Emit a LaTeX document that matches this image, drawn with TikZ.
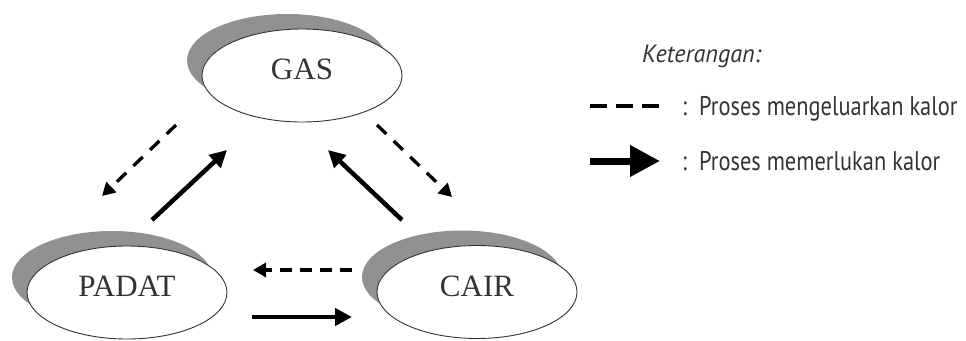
\documentclass[tikz,border=0pt]{standalone}
\usepackage{fontspec}
\setmainfont{Liberation Serif}
\newfontfamily\legendfont[FakeStretch=0.83]{PT Sans}
\newfontfamily\legendital[FakeStretch=0.97]{PT Sans}
\usetikzlibrary{shapes.geometric,arrows.meta,shadows}
\definecolor{shadowgray}{gray}{0.57}
\definecolor{inkgray}{gray}{0.2}
\begin{document}
\begin{tikzpicture}[x=1pt,y=-1pt,
  state/.style={ellipse, draw=inkgray, line width=0.9pt, fill=white,
    minimum width=200pt, minimum height=93pt, inner sep=0pt,
    font=\fontsize{31}{34}\selectfont, text=inkgray, text depth=12pt,
    general shadow={fill=shadowgray, shadow xshift=-15pt, shadow yshift=15pt}},
  solidarrow/.style={line width=4.5pt, -{Triangle[length=17pt,width=17pt]}},
  dasharrow/.style={line width=3.3pt, dash pattern=on 13pt off 10pt,
    -{Triangle[length=13pt,width=14pt]}},
  legtext/.style={font=\legendfont\fontsize{27}{30}\selectfont, text=inkgray,
    inner sep=0pt, anchor=base west},
]
\useasboundingbox (0,0) rectangle (966,340);

% states
\node[state] (gas)   at (302,75.5)  {GAS};
\node[state] (padat) at (127,292.5) {PADAT};
\node[state] (cair)  at (477,292)   {CAIR};

% arrow end points
\coordinate (gp1) at (176,125); \coordinate (gp2) at (102,196);
\coordinate (pg1) at (152,220); \coordinate (pg2) at (227,150);
\coordinate (gc1) at (377,125); \coordinate (gc2) at (452,197);
\coordinate (cg1) at (402,220); \coordinate (cg2) at (328,150);
\coordinate (cp1) at (352,270); \coordinate (cp2) at (253,270);
\coordinate (pc1) at (252,317); \coordinate (pc2) at (352,317);

\draw[dasharrow]  (gp1) -- (gp2);
\draw[solidarrow] (pg1) -- (pg2);
\draw[dasharrow]  (gc1) -- (gc2);
\draw[solidarrow] (cg1) -- (cg2);
\draw[dasharrow, dash pattern=on 12pt off 8pt]  (cp1) -- (cp2);
\draw[solidarrow] (pc1) -- (pc2);

% legend
\node[legtext, font=\legendital\itshape\fontsize{25}{28}\selectfont] (ket) at (642,62) {Keterangan:};
\coordinate (l1a) at (590,106); \coordinate (l1b) at (660,106);
\coordinate (l2a) at (590,161); \coordinate (l2b) at (660,161);
\draw[line width=4pt, dash pattern=on 17pt off 9pt] (l1a) -- (l1b);
\draw[line width=7pt, -{Triangle[length=30pt,width=30pt]}] (l2a) -- (l2b);
\node[legtext] (c1) at (682,115) {:};
\node[legtext] (t1) at (699,115) {Proses mengeluarkan kalor};
\node[legtext] (c2) at (682,170) {:};
\node[legtext] (t2) at (699,170) {Proses memerlukan kalor};
\end{tikzpicture}
\end{document}
